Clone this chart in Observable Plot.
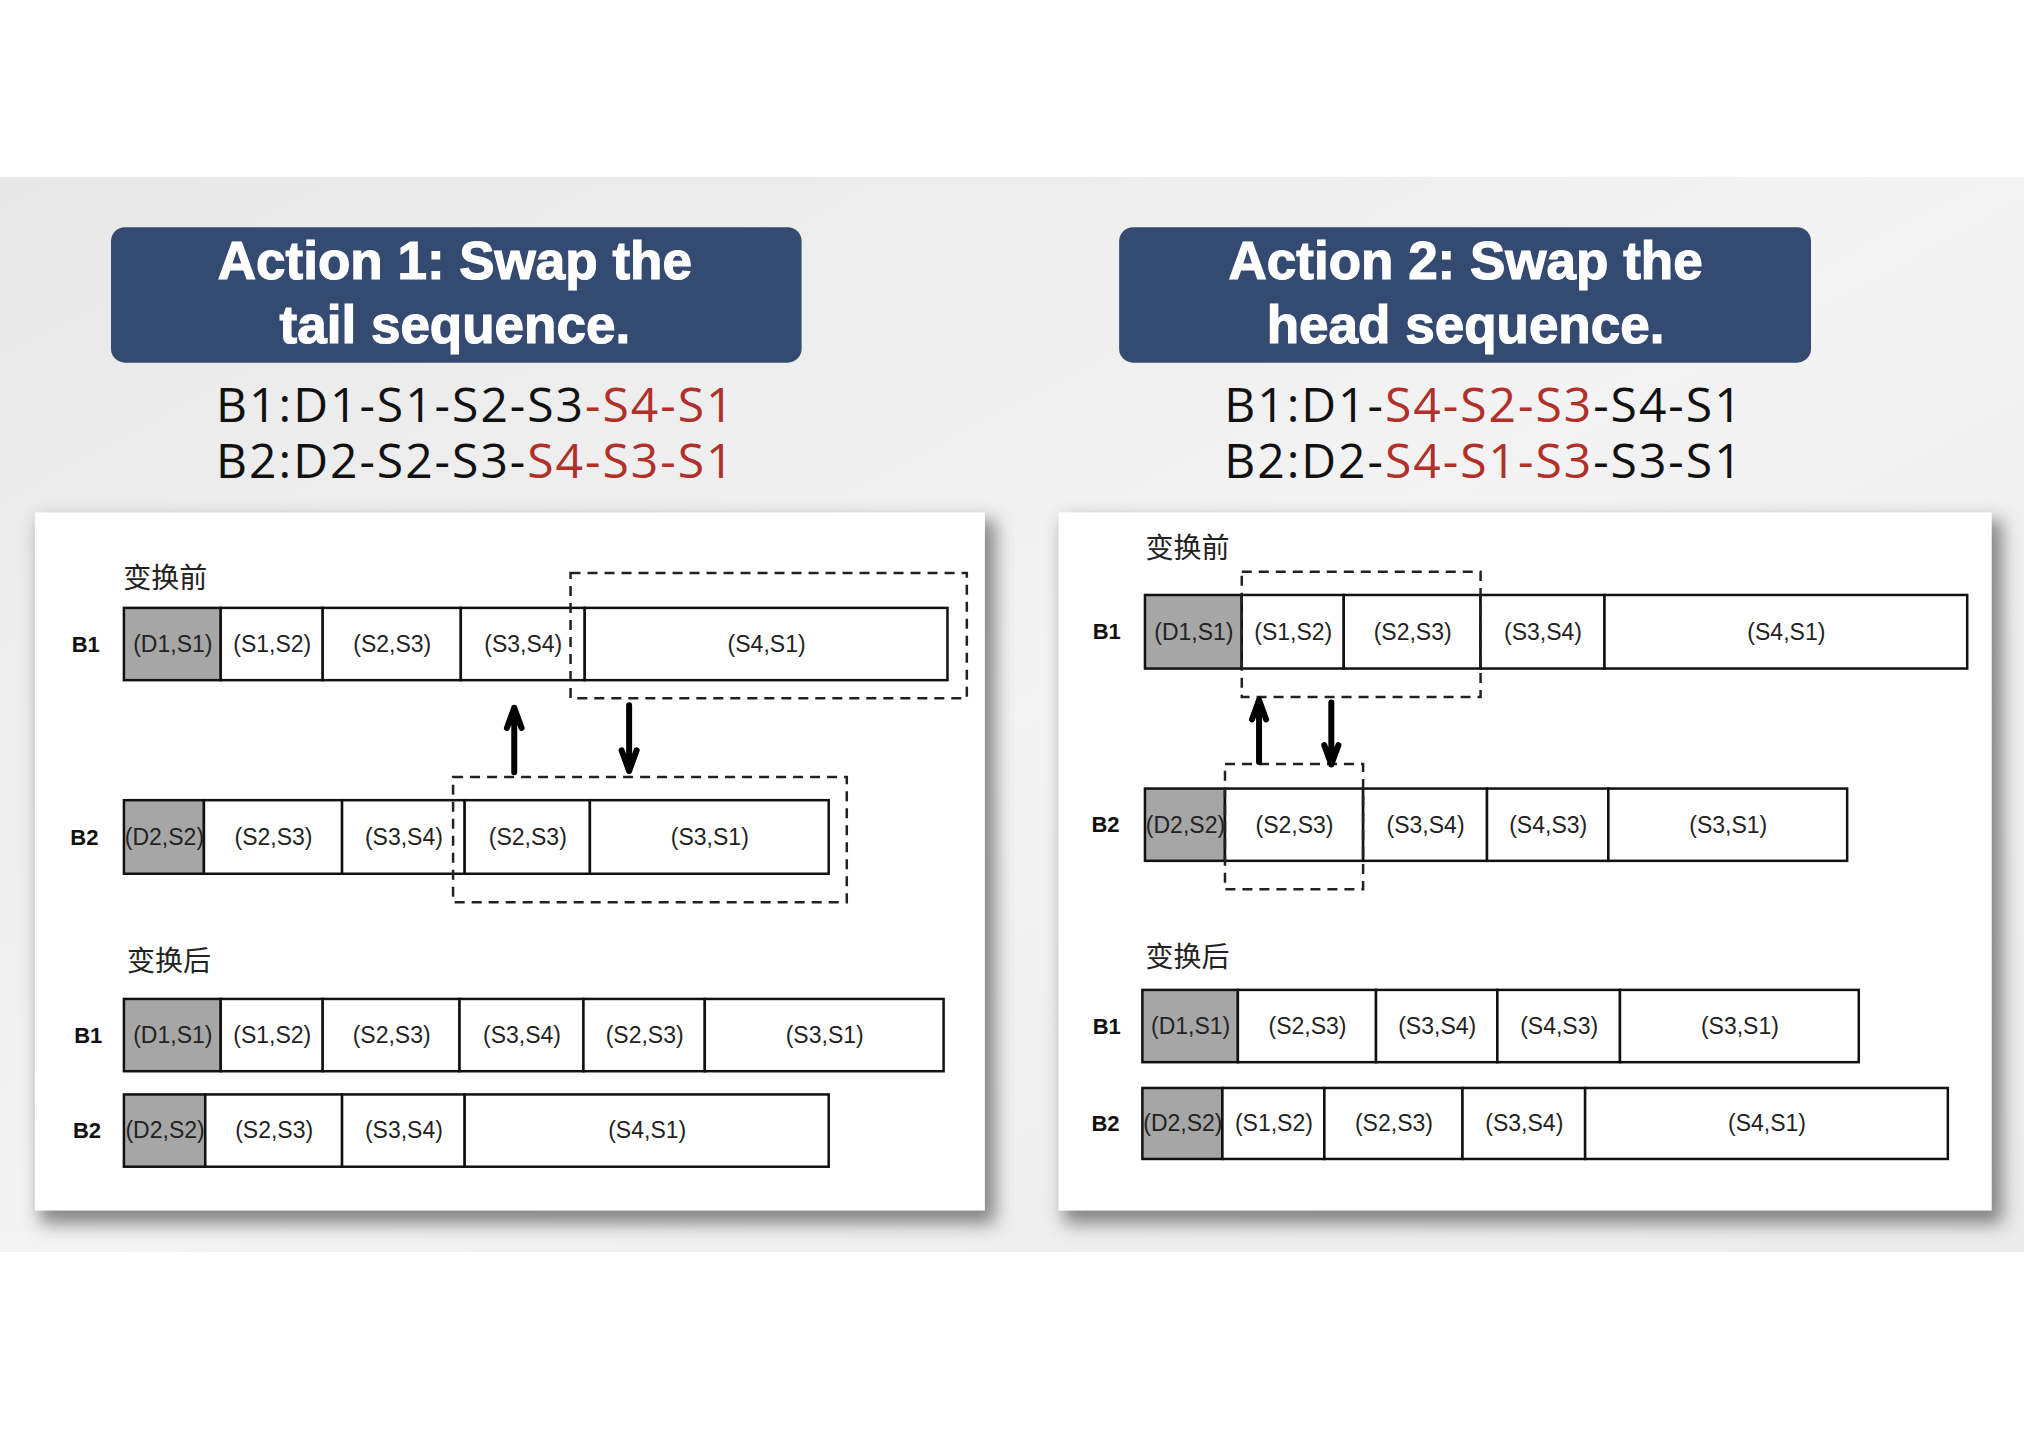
<!DOCTYPE html>
<html><head><meta charset="utf-8">
<script src="https://cdn.jsdelivr.net/npm/d3@7"></script>
<script src="https://cdn.jsdelivr.net/npm/@observablehq/plot@0.6"></script>
<style>body{margin:0;background:#fff}</style>
</head><body><div id="c"></div>
<script>
// Layout is expressed in reference-display units (1568 x 1108), mapped by Plot's scales to 2024 x 1430.
const titles = [
  {cx: 352, lines: ["Action 1: Swap the", "tail sequence."], x1: 86, x2: 621},
  {cx: 1135, lines: ["Action 2: Swap the", "head sequence."], x1: 867, x2: 1403}
];
const sequences = [
  {x: 167, y: 315, parts: [["B1:D1-S1-S2-S3", "#111"], ["-S4-S1", "#b0302a"]]},
  {x: 167, y: 358, parts: [["B2:D2-S2-S3-", "#111"], ["S4-S3-S1", "#b0302a"]]},
  {x: 948, y: 315, parts: [["B1:D1-", "#111"], ["S4-S2-S3", "#b0302a"], ["-S4-S1", "#111"]]},
  {x: 948, y: 358, parts: [["B2:D2-", "#111"], ["S4-S1-S3", "#b0302a"], ["-S3-S1", "#111"]]}
];
const cards = [{x1: 27, x2: 763, y1: 397, y2: 938}, {x1: 820, x2: 1543, y1: 397, y2: 938}];
const sectionLabels = [
  {x: 95, y: 448, t: "变换前"}, {x: 98, y: 745, t: "变换后"},
  {x: 887, y: 425, t: "变换前"}, {x: 887, y: 742, t: "变换后"}
];
// rows: name, label x, top, bottom, cell boundaries, cell labels
const rows = [
  {name: "B1", lx: 66, y1: 471, y2: 527, b: [96,171,250,357,453,734], cells: ["(D1,S1)","(S1,S2)","(S2,S3)","(S3,S4)","(S4,S1)"]},
  {name: "B2", lx: 65, y1: 620, y2: 677, b: [96,158,265,360,457,642], cells: ["(D2,S2)","(S2,S3)","(S3,S4)","(S2,S3)","(S3,S1)"]},
  {name: "B1", lx: 68, y1: 774, y2: 830, b: [96,171,250,356,452,546,731], cells: ["(D1,S1)","(S1,S2)","(S2,S3)","(S3,S4)","(S2,S3)","(S3,S1)"]},
  {name: "B2", lx: 67, y1: 848, y2: 904, b: [96,159,265,360,642], cells: ["(D2,S2)","(S2,S3)","(S3,S4)","(S4,S1)"]},
  {name: "B1", lx: 857, y1: 461, y2: 518, b: [887,962,1041,1147,1243,1524], cells: ["(D1,S1)","(S1,S2)","(S2,S3)","(S3,S4)","(S4,S1)"]},
  {name: "B2", lx: 856, y1: 611, y2: 667, b: [887,949,1056,1152,1246,1431], cells: ["(D2,S2)","(S2,S3)","(S3,S4)","(S4,S3)","(S3,S1)"]},
  {name: "B1", lx: 857, y1: 767, y2: 823, b: [885,959,1066,1160,1255,1440], cells: ["(D1,S1)","(S2,S3)","(S3,S4)","(S4,S3)","(S3,S1)"]},
  {name: "B2", lx: 856, y1: 843, y2: 898, b: [885,947,1026,1133,1228,1509], cells: ["(D2,S2)","(S1,S2)","(S2,S3)","(S3,S4)","(S4,S1)"]}
];
const dashed = [
  {x1: 442, x2: 749, y1: 444, y2: 541}, {x1: 351, x2: 656, y1: 602, y2: 699},
  {x1: 962, x2: 1147, y1: 443, y2: 540}, {x1: 949, x2: 1056, y1: 592, y2: 689}
];
const arrows = [
  {x: 398, y1: 598, y2: 548}, {x: 487, y1: 546, y2: 597},
  {x: 975, y1: 590, y2: 542}, {x: 1031, y1: 544, y2: 592}
];

const cellData = rows.flatMap(r => r.cells.map((c, i) => ({
  x1: r.b[i], x2: r.b[i+1], y1: r.y1, y2: r.y2, label: c, head: i === 0
})));
const titleLines = titles.flatMap(t => t.lines.map((l, i) => ({x: t.cx, y: 203 + i*49, t: l})));

const chart = Plot.plot({
  width: 2024, height: 1430, margin: 0,
  x: {domain: [0, 1568], axis: null},
  y: {domain: [0, 1108], reverse: true, axis: null},
  marks: [
    Plot.rect([{x1: 0, x2: 1568, y1: 137, y2: 970}], {x1: "x1", x2: "x2", y1: "y1", y2: "y2", fill: "url(#bgGrad)"}),
    Plot.rect(cards, {x1: d => d.x1 + 4, x2: d => d.x2 + 8, y1: d => d.y1 + 6, y2: d => d.y2 + 10, fill: "#555", className: "shadow"}),
    Plot.rect(cards, {x1: "x1", x2: "x2", y1: "y1", y2: "y2", fill: "white"}),
    Plot.rect(titles, {x1: "x1", x2: "x2", y1: () => 176, y2: () => 281, fill: "#344a70", rx: 14}),
    Plot.text(titleLines, {x: "x", y: "y", text: "t", fill: "white", fontSize: 53, fontWeight: "bold", fontFamily: "Liberation Sans, Arial, sans-serif", className: "ttl"}),
    Plot.text(sequences, {x: "x", y: "y", text: d => d.parts.map(p => p[0]).join(""), textAnchor: "start", fontSize: 48, fontFamily: "Open Sans, sans-serif", className: "seq"}),
    Plot.text(sectionLabels, {x: "x", y: "y", text: "t", textAnchor: "start", fontSize: 28, fill: "#222", fontFamily: "Noto Sans CJK SC, sans-serif"}),
    Plot.text(rows, {x: "lx", y: d => (d.y1 + d.y2) / 2, text: "name", fontSize: 22, fontWeight: "bold", fill: "#111", fontFamily: "Liberation Sans, Arial, sans-serif"}),
    Plot.rect(cellData, {x1: "x1", x2: "x2", y1: "y1", y2: "y2", fill: d => d.head ? "#a6a6a6" : "white", stroke: "#111", strokeWidth: 2.5}),
    Plot.text(cellData, {x: d => (d.x1 + d.x2) / 2, y: d => (d.y1 + d.y2) / 2, text: "label", fontSize: 23, fill: "#222", fontFamily: "Liberation Sans, Arial, sans-serif"}),
    Plot.rect(dashed, {x1: "x1", x2: "x2", y1: "y1", y2: "y2", fill: "none", stroke: "#222", strokeWidth: 2.5, strokeDasharray: "10,7"}),
    Plot.arrow(arrows, {x1: "x", x2: "x", y1: "y1", y2: "y2", stroke: "#000", strokeWidth: 6, headLength: 8, headAngle: 40})
  ]
});
const svg = d3.select(chart);
const defs = svg.insert("defs", ":first-child");
const g = defs.append("linearGradient").attr("id", "bgGrad").attr("x1", 0).attr("x2", 1).attr("y1", 0).attr("y2", 1);
g.append("stop").attr("offset", "0%").attr("stop-color", "#e8e8e8");
g.append("stop").attr("offset", "50%").attr("stop-color", "#f3f3f3");
g.append("stop").attr("offset", "100%").attr("stop-color", "#ebebeb");
defs.append("filter").attr("id", "blur").attr("x", "-10%").attr("y", "-10%").attr("width", "120%").attr("height", "120%")
  .append("feGaussianBlur").attr("stdDeviation", 9);
svg.selectAll(".shadow rect").attr("filter", "url(#blur)").attr("opacity", 0.7);
svg.selectAll(".ttl text").attr("stroke", "white").attr("stroke-width", 1.2);
svg.selectAll(".seq text").attr("letter-spacing", 2).each(function(d, i) {
  const el = d3.select(this); el.text("");
  sequences[i].parts.forEach(p => el.append("tspan").attr("fill", p[1]).text(p[0]));
});
document.getElementById("c").appendChild(chart);
</script></body></html>
